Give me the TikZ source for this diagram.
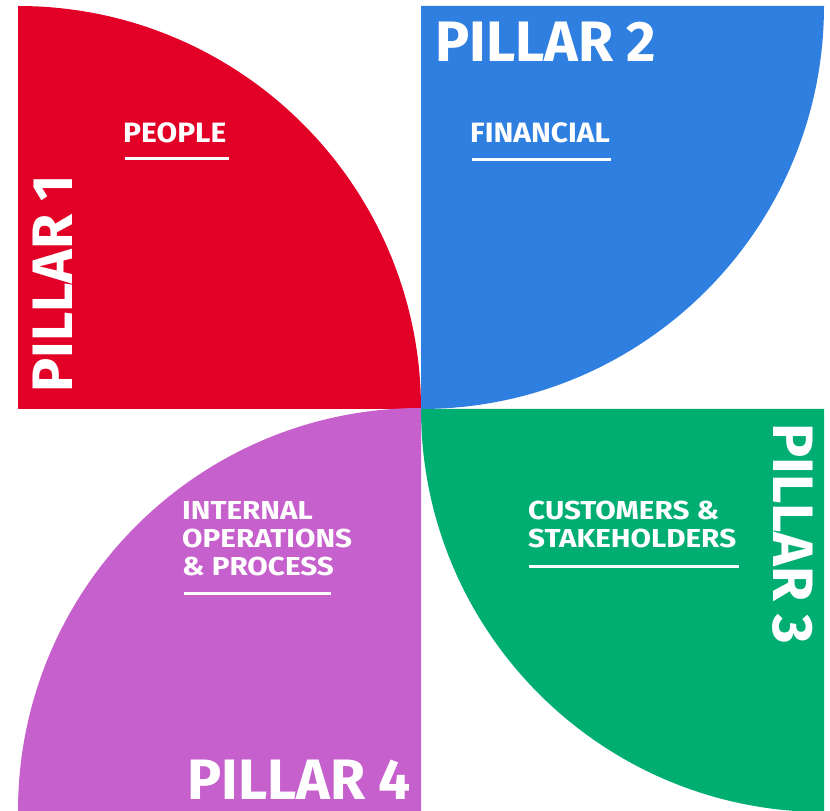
\documentclass[tikz,border=0pt]{standalone}
\usepackage{fontspec}
\setmainfont{Fira Sans}
\definecolor{pred}{RGB}{226,0,38}
\definecolor{pblue}{RGB}{47,127,224}
\definecolor{pgreen}{RGB}{0,174,114}
\definecolor{ppurple}{RGB}{198,96,204}
\begin{document}
\begin{tikzpicture}[x=1pt,y=1pt,
  pillar/.style={text=white,font=\fontsize{57}{57}\selectfont\bfseries,inner sep=0pt,text depth=0pt},
  topic/.style={text=white,font=\fontsize{28}{28}\selectfont\bfseries,inner sep=0pt,align=left,xscale=1.07},
  topicsm/.style={text=white,font=\fontsize{26}{28}\selectfont\bfseries,inner sep=0pt,align=left,xscale=1.14},
  rule/.style={white,line width=3pt}]
\useasboundingbox (0,0) rectangle (830,811);
% four quarter discs forming the pinwheel
\fill[pred] (18,402) -- (421,402) arc[start angle=0,end angle=90,radius=403] -- cycle;
\fill[pblue] (421,805) -- (421,402) arc[start angle=-90,end angle=0,radius=403] -- cycle;
\fill[pgreen] (824,402) -- (421,402) arc[start angle=180,end angle=270,radius=403] -- cycle;
\fill[ppurple] (421,0) -- (18,0) arc[start angle=180,end angle=90,radius=403] -- cycle;
% pillar titles
\node[pillar,anchor=base west,rotate=90] (p1) at (72,418) {PILLAR 1};
\node[pillar,anchor=base west] (p2) at (435,749) {PILLAR 2};
\node[pillar,anchor=base west,rotate=-90] (p3) at (773,388) {PILLAR 3};
\node[pillar,anchor=base west] (p4) at (187,11) {PILLAR 4};
% topics with underlines
\node[topic,anchor=base west] (t1) at (123,668) {PEOPLE};
\coordinate (u1a) at (125,652); \coordinate (u1b) at (229,652);
\draw[rule] (u1a) -- (u1b);
\node[topic,anchor=base west] (t2) at (470,668) {FINANCIAL};
\coordinate (u2a) at (472,651); \coordinate (u2b) at (611,651);
\draw[rule] (u2a) -- (u2b);
\node[topicsm,anchor=base west] (t3) at (528,263) {CUSTOMERS \&\\STAKEHOLDERS};
\coordinate (u3a) at (529,244); \coordinate (u3b) at (739,244);
\draw[rule] (u3a) -- (u3b);
\node[topicsm,anchor=base west] (t4) at (182,235) {INTERNAL\\OPERATIONS\\\& PROCESS};
\coordinate (u4a) at (184,217); \coordinate (u4b) at (331,217);
\draw[rule] (u4a) -- (u4b);
\end{tikzpicture}
\end{document}
